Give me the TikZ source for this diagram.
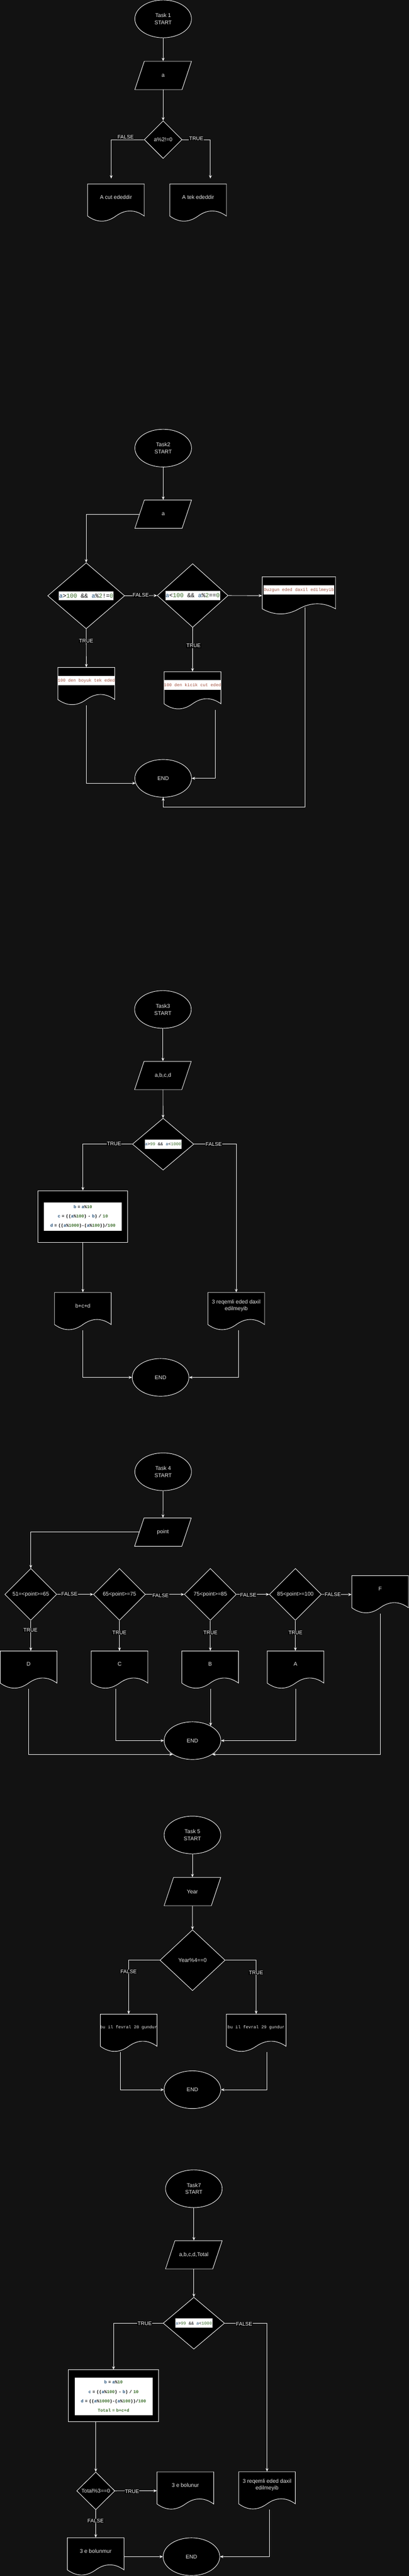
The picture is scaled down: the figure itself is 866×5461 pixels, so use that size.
\documentclass[tikz,border=0pt]{standalone}
\usepackage{fontspec}
\setmainfont{Liberation Sans}
\setmonofont{Liberation Mono}
\usetikzlibrary{shapes.geometric,arrows.meta}

\definecolor{canvas}{HTML}{121212}
\definecolor{shapetext}{HTML}{E8E8E8}
\definecolor{codevar}{HTML}{1F4E79}
\definecolor{codenum}{HTML}{3B6E2B}
\definecolor{codestr}{HTML}{A3523F}

\newcommand{\shapefont}{\fontsize{11.5}{15}\selectfont}
\newcommand{\branchfont}{\fontsize{11}{12}\selectfont}
\newcommand{\smallcode}{\ttfamily\fontsize{9.15}{20}\selectfont}
\newcommand{\bigcode}{\ttfamily\fontsize{12.75}{15}\selectfont}
\newcommand{\cvar}[1]{\textcolor{codevar}{#1}}
\newcommand{\cnum}[1]{\textcolor{codenum}{#1}}

% parallelogram 120x60: name, cx, cy, text
\newcommand{\ionode}[4]{%
  \filldraw[shapeline] ({#2-40},{#3-30}) -- ({#2+60},{#3-30}) -- ({#2+40},{#3+30}) -- ({#2-60},{#3+30}) -- cycle;
  \node[iobox] (#1) at (#2,#3) {#4};}

% document 80 high: name, cx, top, width, text style, text
\newcommand{\docnode}[6]{%
  \filldraw[shapeline] ({#2-#4/2},#3) -- ({#2+#4/2},#3) -- ({#2+#4/2},{#3+68})
    .. controls ({#2+#4/3},{#3+53.6}) and ({#2+#4/6},{#3+53.6}) .. (#2,{#3+68})
    .. controls ({#2-#4/6},{#3+82.4}) and ({#2-#4/3},{#3+82.4}) .. ({#2-#4/2},{#3+68}) -- cycle;
  \node[docframe, minimum width=#4pt] (#1) at (#2,{#3+40}) {};
  \node[#5] (#1-t) at (#2,{#3+28}) {#6};}

\begin{document}
\begin{tikzpicture}[x=1pt, y=-1pt, line width=1pt,
  shapeline/.style={draw=white, fill=black, line width=1pt},
  flowline/.style={draw=white, line width=1pt},
  flowarrow/.style={flowline, -{Stealth[length=7pt, width=6pt, inset=2.5pt]}},
  terminal/.style={ellipse, draw=white, fill=black, minimum width=120pt, minimum height=80pt, inner sep=0pt, align=center, text=shapetext, font=\shapefont},
  decision/.style={diamond, draw=white, fill=black, inner sep=0pt, text=shapetext, font=\shapefont},
  process/.style={rectangle, draw=white, fill=black, inner sep=0pt},
  iobox/.style={rectangle, minimum width=120pt, minimum height=60pt, inner sep=0pt, text=shapetext, font=\shapefont},
  docframe/.style={rectangle, minimum height=80pt, inner sep=0pt},
  doctext/.style={text=shapetext, font=\shapefont, align=center},
  docmono/.style={text=shapetext, font=\smallcode},
  docband/.style={fill=white, text=codestr, font=\smallcode, minimum height=20pt, inner xsep=0.5pt, inner ysep=0pt},
  condband/.style={fill=white, text=black, inner xsep=0.5pt, inner ysep=0pt},
  codeblock/.style={fill=white, text=black, font=\smallcode\bfseries, align=center, inner sep=0pt, text width=165pt},
  branch/.style={fill=black, text=white, font=\branchfont, inner sep=0.6pt}]

\useasboundingbox (0,0) rectangle (866,5461);
\fill[canvas] (0,0) rectangle (866,5461);

% Task 1
\node[terminal] (t1s) at (345.5,40) {Task 1\\START};
\ionode{t1in}{345.5}{160}{a}
\node[decision, minimum width=80pt, minimum height=80pt] (t1c) at (345.5,296) {a\%2!=0};
\docnode{t1f}{245.5}{390}{120}{doctext}{A cut ededdir}
\docnode{t1t}{419.5}{390}{120}{doctext}{A tek ededdir}

\draw[flowarrow] (t1s) -- (t1in);
\draw[flowarrow] (t1in) -- (t1c);
\draw[flowarrow, shorten >=11pt] (t1c.west) -| ([xshift=-10pt]t1f.north);
\draw[flowarrow, shorten >=11pt] (t1c.east) -| ([xshift=26pt]t1t.north);
\node[branch] (t1fl) at (266,291) {FALSE};
\node[branch] (t1tl) at (415.7,294) {TRUE};

% Task 2
\node[terminal] (t2s) at (345.6,950) {Task2\\START};
\ionode{t2in}{345.6}{1090}{a}
\node[decision, minimum width=163pt, minimum height=140pt] (t2c1) at (182.5,1263) {};
\node[condband, font=\bigcode, minimum height=18.7pt] (t2c1-t) at (t2c1) {\cvar{a}>\cnum{100} \&\& \cvar{a}\%\cnum{2}!=\cnum{0}};
\node[decision, minimum width=150pt, minimum height=135pt] (t2c2) at (408,1262.5) {};
\node[condband, font=\bigcode, minimum height=18.7pt] (t2c2-t) at (t2c2) {\cvar{a}<\cnum{100} \&\& \cvar{a}\%\cnum{2}==\cnum{0}};
\docnode{t2d1}{182.8}{1415}{120.5}{docband}{100 den boyuk tek eded}
\docnode{t2d2}{407.7}{1424}{120.5}{docband}{100 den kicik cut eded}
\docnode{t2d3}{633}{1222.7}{155.4}{docband}{Duzgun eded daxil edilmeyib}
\node[terminal] (t2e) at (345.6,1650) {END};

\draw[flowarrow] (t2s) -- (t2in);
\draw[flowarrow] ([xshift=10pt]t2in.west) -| (t2c1.north);
\draw[flowarrow] (t2c1.east) -- (t2c2.west);
\draw[flowarrow] (t2c2.east) -- (t2d3.west);
\draw[flowarrow] (t2c1.south) -- (t2d1.north);
\draw[flowarrow] (t2c2.south) -- (t2d2.north);
\draw[flowarrow] (t2d1.south) |- (t2e.190);
\draw[flowarrow] ([xshift=47.7pt]t2d2.south) |- (t2e.east);
\draw[flowarrow] ([xshift=12.6pt, yshift=16pt]t2d3.south) -- ++(0,424) -| (t2e.south);
\node[branch] (t2fl) at (298,1262) {FALSE};
\node[branch] (t2tl1) at (182.6,1359) {TRUE};
\node[branch] (t2tl2) at (410,1369) {TRUE};

% Task 3
\node[terminal] (t3s) at (345,2140) {Task3\\START};
\ionode{t3in}{345}{2280}{a,b,c,d}
\node[decision, minimum width=130pt, minimum height=110pt] (t3c) at (345.4,2425.5) {};
\node[condband, font=\smallcode, minimum height=19.5pt] (t3c-t) at (t3c) {\cvar{a}>\cnum{99} \&\& \cvar{a}<\cnum{1000}};
\node[process, minimum width=190pt, minimum height=110pt] (t3p) at (175.5,2579) {};
\node[codeblock, minimum height=60pt] (t3p-t) at (t3p) {\cvar{b} = \cvar{a}\%\cnum{10}\\
  \cvar{c} = ((\cvar{a}\%\cnum{100}) - \cvar{b}) / \cnum{10}\\
  \cvar{d} = ((\cvar{a}\%\cnum{1000})-(\cvar{a}\%\cnum{100}))/\cnum{100}};
\docnode{t3d1}{175.5}{2740}{120}{doctext}{b+c+d}
\docnode{t3d2}{500.3}{2740}{120}{doctext}{3 reqemli eded daxil\\edilmeyib}
\node[terminal] (t3e) at (340,2920) {END};

\draw[flowarrow] (t3s) -- (t3in);
\draw[flowarrow] (t3in) -- (t3c);
\draw[flowarrow] (t3c.west) -| (t3p.north);
\draw[flowarrow] (t3c.east) -| (t3d2.north);
\draw[flowarrow] (t3p) -- (t3d1.north);
\draw[flowarrow] (t3d1.south) |- (t3e.west);
\draw[flowarrow] ([xshift=5pt]t3d2.south) |- (t3e.east);
\node[branch] (t3tl) at (241.5,2425) {TRUE};
\node[branch] (t3fl) at (452.6,2425.5) {FALSE};

% Task 4
\node[terminal] (t4s) at (345.5,3120) {Task 4\\START};
\ionode{t4in}{345}{3248}{point}
\node[decision, minimum width=110pt, minimum height=110pt] (t4c1) at (65.2,3380) {51=<point>=65};
\node[decision, minimum width=110pt, minimum height=110pt] (t4c2) at (253,3380) {65<point>=75};
\node[decision, minimum width=110pt, minimum height=110pt] (t4c3) at (445.4,3380) {75<point>=85};
\node[decision, minimum width=110pt, minimum height=110pt] (t4c4) at (625.5,3380) {85<point>=100};
\docnode{t4dD}{60.5}{3500}{120}{doctext}{D}
\docnode{t4dC}{253.2}{3500}{120}{doctext}{C}
\docnode{t4dB}{445}{3500}{120}{doctext}{B}
\docnode{t4dA}{625.8}{3500}{120}{doctext}{A}
\docnode{t4dF}{805}{3340.3}{120}{doctext}{F}
\node[terminal] (t4e) at (407.6,3690) {END};

\draw[flowarrow] (t4s) -- (t4in);
\draw[flowarrow] ([xshift=10pt]t4in.west) -| (t4c1.north);
\draw[flowarrow] (t4c1.east) -- (t4c2.west);
\draw[flowarrow] (t4c2.east) -- (t4c3.west);
\draw[flowarrow] (t4c3.east) -- (t4c4.west);
\draw[flowarrow] (t4c4.east) -- (t4dF.west);
\draw[flowarrow] (t4c1.south) -- (t4c1.south |- t4dD.north);
\draw[flowarrow] (t4c2.south) -- (t4c2.south |- t4dC.north);
\draw[flowarrow] (t4c3.south) -- (t4c3.south |- t4dB.north);
\draw[flowarrow] (t4c4.south) -- (t4c4.south |- t4dA.north);
\draw[flowarrow] (t4dD.south) |- (t4e.215);
\draw[flowarrow] ([xshift=-8.5pt]t4dC.south) |- (t4e.west);
\draw[flowarrow] (t4dB.south -| t4e.39) -- (t4e.39);
\draw[flowarrow] (t4dA.south) |- (t4e.east);
\draw[flowarrow] (t4dF.south) |- (t4e.325);
\node[branch] (t4fl1) at (147,3379) {FALSE};
\node[branch] (t4fl2) at (340,3382) {FALSE};
\node[branch] (t4fl3) at (525.8,3381) {FALSE};
\node[branch] (t4fl4) at (704.7,3380) {FALSE};
\node[branch] (t4tl1) at (64.6,3456) {TRUE};
\node[branch] (t4tl2) at (253,3461) {TRUE};
\node[branch] (t4tl3) at (445.7,3461) {TRUE};
\node[branch] (t4tl4) at (625.8,3461) {TRUE};

% Task 5
\node[terminal] (t5s) at (407.5,3890) {Task 5\\START};
\ionode{t5in}{407.5}{4010}{Year}
\node[decision, minimum width=138pt, minimum height=129pt] (t5c) at (407.7,4155.5) {Year\%4==0};
\docnode{t5d1}{272.5}{4270}{120}{docmono}{bu il fevral 28 gundur}
\docnode{t5d2}{542.5}{4270}{126.4}{docmono}{bu il fevral 29 gundur}
\node[terminal] (t5e) at (407.5,4430) {END};

\draw[flowarrow] (t5s) -- (t5in);
\draw[flowarrow] (t5in) -- (t5c);
\draw[flowarrow] (t5c.west) -| (t5d1.north);
\draw[flowarrow] (t5c.east) -| (t5d2.north);
\draw[flowarrow] ([xshift=-17.2pt]t5d1.south) |- (t5e.west);
\draw[flowarrow] ([xshift=22.8pt]t5d2.south) |- (t5e.east);
\node[branch] (t5fl) at (272.3,4180) {FALSE};
\node[branch] (t5tl) at (542.3,4181.7) {TRUE};

% Task 7
\node[terminal] (t7s) at (410.5,4640) {Task7\\START};
\ionode{t7in}{410.5}{4780}{a,b,c,d,Total}
\node[decision, minimum width=130pt, minimum height=110pt] (t7c) at (410.5,4925) {};
\node[condband, font=\smallcode, minimum height=19.5pt] (t7c-t) at (t7c) {\cvar{a}>\cnum{99} \&\& \cvar{a}<\cnum{1000}};
\node[process, minimum width=190.7pt, minimum height=110pt] (t7p) at (240.4,5079) {};
\node[codeblock, minimum height=80pt] (t7p-t) at (240.4,5080) {\cvar{b} = \cvar{a}\%\cnum{10}\\
  \cvar{c} = ((\cvar{a}\%\cnum{100}) - \cvar{b}) / \cnum{10}\\
  \cvar{d} = ((\cvar{a}\%\cnum{1000})-(\cvar{a}\%\cnum{100}))/\cnum{100}\\
  \cnum{Total = b+c+d}};
\node[decision, minimum width=80.7pt, minimum height=80pt] (t7c2) at (202.8,5280.5) {Total\%3==0};
\docnode{t7d1}{392.5}{5240.3}{120}{doctext}{3 e bolunur}
\docnode{t7d2}{202.7}{5380}{120}{doctext}{3 e bolunmur}
\docnode{t7d3}{565.5}{5240}{120}{doctext}{3 reqemli eded daxil\\edilmeyib}
\node[terminal] (t7e) at (405.4,5420) {END};

\draw[flowarrow] (t7s) -- (t7in);
\draw[flowarrow] (t7in) -- (t7c);
\draw[flowarrow] (t7c.west) -| (t7p.north);
\draw[flowarrow] (t7c.east) -| (t7d3.north);
\draw[flowarrow] (t7c2.north |- t7p.south) -- (t7c2.north);
\draw[flowarrow] (t7c2.east) -- (t7d1.west);
\draw[flowarrow] (t7c2.south) -- (t7d2.north);
\draw[flowarrow] (t7d2.east) -- (t7e.west);
\draw[flowarrow] ([xshift=5pt]t7d3.south) |- (t7e.east);
\node[branch] (t7tl1) at (306.4,4925.5) {TRUE};
\node[branch] (t7fl1) at (517,4927) {FALSE};
\node[branch] (t7tl2) at (279.6,5282) {TRUE};
\node[branch] (t7fl2) at (202.5,5344) {FALSE};
\end{tikzpicture}
\end{document}
